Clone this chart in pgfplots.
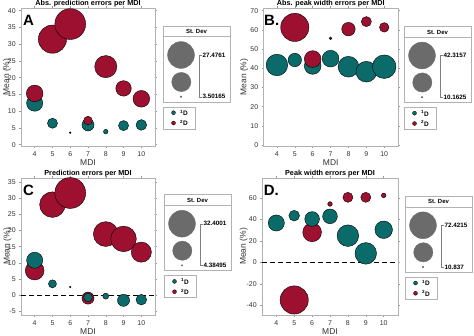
\documentclass[border=0pt]{standalone}
\usepackage{pgfplots}
\pgfplotsset{compat=1.18}
\usepackage{fontspec}
\setmainfont{Liberation Sans}
\definecolor{tealc}{HTML}{0B6B6B}
\definecolor{redc}{HTML}{9E1030}
\definecolor{bubgray}{HTML}{6B6B6B}

\pgfplotsset{
  panel/.style={
    scale only axis, anchor=north west,
    xtick={4,...,10},
    axis line style={black!30, line width=0.5bp},
    tick style={black!40, line width=0.4bp},
    tick align=outside, major tick length=1.8bp,
    ticklabel style={font=\fontsize{7}{8}\selectfont, text=black!80},
    /pgf/number format/assume math mode=true,
    xlabel={MDI}, ylabel={Mean (\%)},
    label style={font=\fontsize{8.5}{9}\selectfont, text=black!80},
    title style={font=\bfseries\fontsize{7.3}{8}\selectfont, at={(0.5,1)}, anchor=base, yshift=-3.9bp},
    clip=false,
  },
  bub/.style n args={3}{%
    scatter, only marks, mark=*, forget plot,
    line width=0.4bp,
    scatter/use mapped color={draw=black, fill=#1},
    visualization depends on={value \thisrow{sd} \as \sdval},
    scatter/@pre marker code/.append style={/tikz/mark size={1.00375*max(0.8,13.4*sqrt(max(0,(\sdval-#2)/(#3-#2))))}},
  },
  legbox/.style={
    scale only axis, anchor=north west,
    y dir=reverse, xtick=\empty, ytick=\empty,
    axis line style={black!30, line width=0.5bp}, clip=false,
  },
}
\newcommand{\panelletter}[3]{\node[anchor=base west, inner sep=0, font=\bfseries\fontsize{15}{15}\selectfont] at (axis description cs:#1,#2) {#3};}
\newcommand{\sdlegend}[4]{%
  \begin{axis}[legbox, at={(#1bp,-#2bp)}, width=67bp, height=76bp, xmin=0, xmax=67, ymin=0, ymax=76]
    \addplot[only marks, mark=*, mark size=13.4bp, color=bubgray] coordinates {(18,29)};
    \addplot[only marks, mark=*, mark size=9.6bp, color=bubgray] coordinates {(18.3,56)};
    \addplot[only marks, mark=*, mark size=0.8bp, color=bubgray] coordinates {(18,70.7)};
    \draw[black!30, line width=0.5bp] (axis cs:0,10.7) -- (axis cs:67,10.7);
    \node[font=\bfseries\fontsize{6}{7}\selectfont] at (axis cs:33.5,5.5) {St. Dev};
    \draw[black!50, line width=0.4bp] (axis cs:38.5,29) -- (axis cs:36,29) -- (axis cs:36,70.7) -- (axis cs:38.5,70.7);
    \node[anchor=west, inner sep=1bp, font=\bfseries\fontsize{6.3}{7}\selectfont] at (axis cs:38.5,29) {#3};
    \node[anchor=west, inner sep=1bp, font=\bfseries\fontsize{6.3}{7}\selectfont] at (axis cs:38.5,70.7) {#4};
  \end{axis}
  \begin{axis}[legbox, at={(#1bp,-#2bp-81bp)}, width=32bp, height=22bp, xmin=0, xmax=32, ymin=0, ymax=22]
    \addplot[only marks, mark=*, mark size=2bp, mark options={draw=black, fill=tealc, line width=0.3bp}] coordinates {(10.5,5.7)};
    \addplot[only marks, mark=*, mark size=2bp, mark options={draw=black, fill=redc, line width=0.3bp}] coordinates {(10.5,16)};
    \node[anchor=west, inner sep=0, font=\bfseries\fontsize{6.5}{7}\selectfont] at (axis cs:17,5.7) {\textsuperscript{1}D};
    \node[anchor=west, inner sep=0, font=\bfseries\fontsize{6.5}{7}\selectfont] at (axis cs:17,16) {\textsuperscript{2}D};
  \end{axis}
}

\begin{document}
\begin{tikzpicture}
\useasboundingbox (0,0) rectangle (474bp,-336bp);

% ---------------- Panel A ----------------
\begin{axis}[panel, at={(21bp,-8bp)}, width=134bp, height=138bp,
  xmin=3.23, xmax=10.77, ymin=-0.39, ymax=40.8, ytick={0,5,...,40},
  title={Abs. prediction errors per MDI},
  ylabel style={at={(axis description cs:-0.105,0.5)}, anchor=center},
  xlabel style={at={(axis description cs:0.5,-0.121)}, anchor=center}]
\addplot[bub={tealc}{3.50165}{27.4761}] table[row sep=\\] {
x y sd\\ 4 12.4 12.2\\ 5 6.4 6.9\\ 6 3.6 3.6\\ 7 5.9 8.4\\ 8 3.9 4.2\\ 9 5.7 6.9\\ 10 5.9 7.3\\
};
\addplot[bub={redc}{3.50165}{27.4761}] table[row sep=\\] {
x y sd\\ 4 15.3 12.8\\ 5 31.5 30.1\\ 6 36.0 35.2\\ 7 7.2 6.0\\ 8 23.3 19.9\\ 9 16.8 11.5\\ 10 13.7 12.8\\
};
\panelletter{0.015}{0.87}{A}
\end{axis}
\sdlegend{163}{26}{27.4761}{3.50165}

% ---------------- Panel B ----------------
\begin{axis}[panel, at={(263.5bp,-8bp)}, width=134.5bp, height=138bp,
  xmin=3.25, xmax=10.77, ymin=-0.52, ymax=71.4, ytick={0,10,...,70},
  title={Abs. peak width errors per MDI},
  ylabel style={at={(axis description cs:-0.143,0.5)}, anchor=center},
  xlabel style={at={(axis description cs:0.5,-0.121)}, anchor=center}]
\addplot[bub={tealc}{10.1625}{42.3157}] table[row sep=\\] {
x y sd\\ 4 41.7 31.0\\ 5 44.3 18.3\\ 6 41.2 22.7\\ 7 45.0 22.7\\ 8 40.8 29.4\\ 9 38.2 29.4\\ 10 40.8 35.0\\
};
\addplot[bub={redc}{10.1625}{42.3157}] table[row sep=\\] {
x y sd\\ 5 61.3 45.8\\ 6 44.8 22.7\\ 7 55.6 10.5\\ 8 60.4 18.3\\ 9 64.3 14.7\\ 10 61.3 14.2\\
};
\panelletter{0.004}{0.87}{B.}
\end{axis}
\sdlegend{404}{26.5}{42.3157}{10.1625}

% ---------------- Panel C ----------------
\begin{axis}[panel, at={(21bp,-178bp)}, width=134bp, height=137bp,
  xmin=3.23, xmax=10.77, ymin=-6.14, ymax=36.24, ytick={-5,0,...,35},
  title={Prediction errors per MDI},
  ylabel style={at={(axis description cs:-0.102,0.5)}, anchor=center},
  xlabel style={at={(axis description cs:0.5,-0.119)}, anchor=center}]
\addplot[black, line width=1.2bp, dash pattern=on 5bp off 3bp, forget plot] coordinates {(3.23,0) (10.77,0)};
\addplot[bub={redc}{4.38495}{32.4001}] table[row sep=\\] {
x y sd\\ 4 7.6 18.1\\ 5 28.0 29.9\\ 6 31.6 41.5\\ 7 -0.9 10.1\\ 8 18.9 28.4\\ 9 17.4 29.9\\ 10 13.3 20.2\\
};
\addplot[bub={tealc}{4.38495}{32.4001}] table[row sep=\\] {
x y sd\\ 4 10.8 14.5\\ 5 3.5 6.9\\ 6 2.5 4.5\\ 7 -0.7 7.3\\ 8 -0.3 5.8\\ 9 -1.6 10.1\\ 10 -1.4 8.8\\
};
\panelletter{0.015}{0.874}{C}
\end{axis}
\sdlegend{164}{194.7}{32.4001}{4.38495}

% ---------------- Panel D ----------------
\begin{axis}[panel, at={(262bp,-178bp)}, width=136bp, height=137bp,
  xmin=3.2, xmax=10.8, ymin=-49, ymax=78.6, ytick={-40,-20,0,20,40,60},
  title={Peak width errors per MDI},
  ylabel style={at={(axis description cs:-0.135,0.5)}, anchor=center},
  xlabel style={at={(axis description cs:0.5,-0.119)}, anchor=center}]
\addplot[black, line width=1.2bp, dash pattern=on 5bp off 3bp, forget plot] coordinates {(3.2,0) (10.8,0)};
\addplot[bub={redc}{10.837}{72.4215}] table[row sep=\\] {
x y sd\\ 5 -35 79.1\\ 6 28 40.9\\ 7 54.4 12.7\\ 8 60.6 19.5\\ 9 60.6 19.5\\ 10 62.4 12.7\\
};
\addplot[bub={tealc}{10.837}{72.4215}] table[row sep=\\] {
x y sd\\ 4 36.7 33.1\\ 5 43.5 20.6\\ 6 40.4 29.4\\ 7 42.9 29.4\\ 8 24.9 50.7\\ 9 8.4 50.7\\ 10 30.4 37.2\\
};
\panelletter{0.0125}{0.874}{D.}
\end{axis}
\sdlegend{405}{196.3}{72.4215}{10.837}

\end{tikzpicture}
\end{document}
